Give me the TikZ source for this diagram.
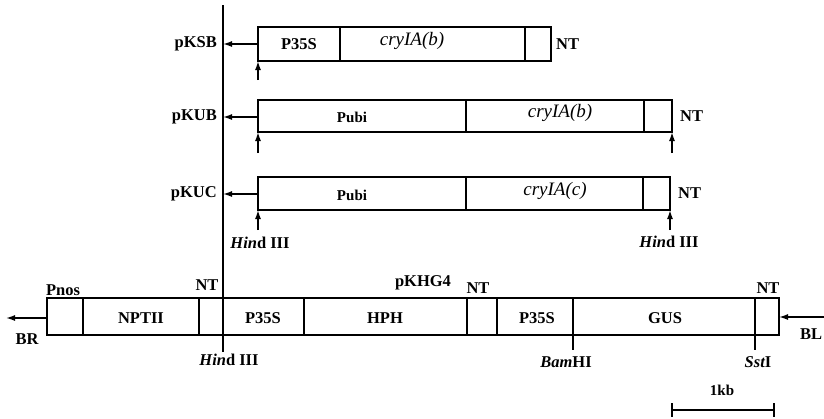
\documentclass[tikz,border=0pt]{standalone}
\usepackage{fontspec}
\setmainfont{Liberation Serif}
\usetikzlibrary{arrows.meta}
\begin{document}
\begin{tikzpicture}[x=1pt,y=-1pt,
  seg/.style={draw,line width=1.6pt},
  div/.style={line width=1.5pt},
  thk/.style={line width=2.1pt},
  lbl/.style={inner sep=0pt,font=\fontsize{16.5}{18}\selectfont\bfseries},
  sml/.style={inner sep=0pt,font=\fontsize{15}{16}\selectfont\bfseries},
  gene/.style={inner sep=0pt,font=\fontsize{19}{20}\selectfont\itshape},
  arr/.style={line width=1.5pt,-{Latex[length=9pt,width=6pt]}},
  tick/.style={line width=1.8pt}]
\useasboundingbox (0,0) rectangle (824,418);
% main vertical line
\coordinate (vtop) at (223,5);
\coordinate (vbot) at (223,352);
\draw[line width=1.5pt] (vtop) -- (vbot);

% ---- pKSB ----
\draw[seg] (258,27) rectangle (551,61);
\coordinate (ksbL) at (258,44);
\coordinate (ksbV) at (223,44);
\draw[div] (340,27) -- (340,61);
\draw[div] (525,27) -- (525,61);
\node[lbl] (ksbp) at (299,44) {P35S};
\node[gene] (ksbc) at (412,41) {cryIA(b)};
\node[lbl,anchor=west] (ksbnt) at (556,44) {NT};
\node[lbl,anchor=east] (ksbname) at (217,44) {pKSB};
\draw[arr] (ksbL) -- (ksbV);
\coordinate (ksbu1) at (258,80);
\coordinate (ksbu1t) at (258,61);
\draw[arr] (ksbu1) -- (ksbu1t);

% ---- pKUB ----
\draw[seg] (258,100) rectangle (672,132);
\draw[div] (466,100) -- (466,132);
\draw[div] (644,100) -- (644,132);
\node[sml] (kubp) at (352,117) {Pubi};
\node[gene] (kubc) at (560,113) {cryIA(b)};
\node[lbl,anchor=west] (kubnt) at (680,116) {NT};
\node[lbl,anchor=east] (kubname) at (217,117) {pKUB};
\coordinate (kubL) at (258,117);
\coordinate (kubV) at (223,117);
\draw[arr] (kubL) -- (kubV);
\coordinate (kubu1) at (258,153);
\coordinate (kubu1t) at (258,132);
\coordinate (kubu2) at (672,153);
\coordinate (kubu2t) at (672,132);
\draw[arr] (kubu1) -- (kubu1t);
\draw[arr] (kubu2) -- (kubu2t);

% ---- pKUC ----
\draw[seg] (258,177) rectangle (670,210);
\draw[div] (466,177) -- (466,210);
\draw[div] (643,177) -- (643,210);
\node[sml] (kucp) at (352,195) {Pubi};
\node[gene] (kucc) at (555,191) {cryIA(c)};
\node[lbl,anchor=west] (kucnt) at (678,193) {NT};
\node[lbl,anchor=east] (kucname) at (217,194) {pKUC};
\coordinate (kucL) at (258,194);
\coordinate (kucV) at (223,194);
\draw[arr] (kucL) -- (kucV);
\coordinate (kucu1) at (258,230);
\coordinate (kucu1t) at (258,210);
\coordinate (kucu2) at (670,230);
\coordinate (kucu2t) at (670,210);
\draw[arr] (kucu1) -- (kucu1t);
\draw[arr] (kucu2) -- (kucu2t);
\node[lbl] (h1) at (260,243) {{\itshape Hin}d III};
\node[lbl] (h2) at (669,242) {{\itshape Hin}d III};

% ---- pKHG4 ----
\draw[seg] (47,298) rectangle (779,335);
\draw[div] (83,298) -- (83,335);
\draw[thk] (199,298) -- (199,335);
\draw[div] (304,298) -- (304,335);
\draw[thk] (467,298) -- (467,335);
\draw[thk] (497,298) -- (497,335);
\draw[div] (573,298) -- (573,335);
\draw[thk] (755,298) -- (755,335);
\node[lbl] (nptii) at (141,318) {NPTII};
\node[lbl] (p35a) at (263,318) {P35S};
\node[lbl] (hph) at (385,318) {HPH};
\node[lbl] (p35b) at (537,318) {P35S};
\node[lbl] (gus) at (665,318) {GUS};
\node[lbl] (pnos) at (63,290) {Pnos};
\node[lbl] (nt1) at (207,285) {NT};
\node[lbl] (khg) at (423,283) {pKHG4};
\node[lbl] (nt2) at (478,288) {NT};
\node[lbl] (nt3) at (768,288) {NT};
% BR / BL
\coordinate (brA) at (47,318);
\coordinate (brB) at (6,318);
\draw[arr] (brA) -- (brB);
\node[lbl] (br) at (27,339) {BR};
\coordinate (blA) at (824,317);
\coordinate (blB) at (779,317);
\draw[arr] (blA) -- (blB);
\node[lbl] (bl) at (811,334) {BL};
% sites
\coordinate (bam0) at (573,335);
\coordinate (bam1) at (573,350);
\draw[tick] (bam0) -- (bam1);
\node[lbl] (bam) at (566,362) {{\itshape Bam}HI};
\coordinate (sst0) at (755,335);
\coordinate (sst1) at (755,350);
\draw[tick] (sst0) -- (sst1);
\node[lbl] (sst) at (758,362) {{\itshape Sst}I};
\node[lbl] (h3) at (229,360) {{\itshape Hin}d III};
% scale bar
\coordinate (sbL) at (672,410);
\coordinate (sbR) at (774,410);
\draw[line width=1.8pt] (sbL) -- (sbR);
\draw[line width=1.8pt] (672,403) -- (672,417);
\draw[line width=1.8pt] (774,403) -- (774,417);
\node[sml] (kb) at (722,390) {1kb};
\end{tikzpicture}
\end{document}
